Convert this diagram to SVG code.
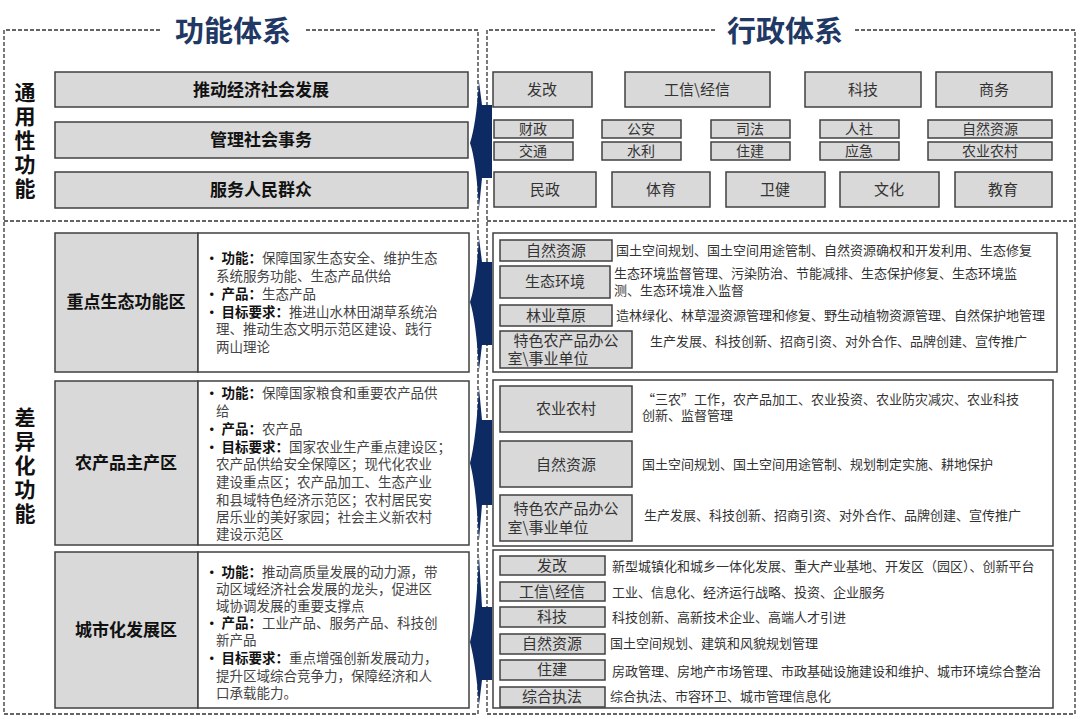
<svg xmlns="http://www.w3.org/2000/svg" width="1080" height="728" viewBox="0 0 1080 728">
<style>
text{font-family:"Noto Sans CJK SC","Liberation Sans",sans-serif;fill:#262626}
.dash{fill:none;stroke:#333;stroke-width:1.3;stroke-dasharray:4 2}
.g{fill:#d9d9d9;stroke:#404040;stroke-width:1.5}
.w{fill:#fff;stroke:#404040;stroke-width:1.5}
.title{font-size:29px;font-weight:bold;fill:#1f3864;text-anchor:middle}
.vt{font-size:21px;font-weight:bold;fill:#111;text-anchor:middle}
.bar{font-size:17px;font-weight:bold;fill:#111;text-anchor:middle}
.c{font-size:15px;text-anchor:middle;fill:#333}
.cs{font-size:14px;text-anchor:middle;fill:#333}
.zl{font-size:17px;font-weight:bold;fill:#111;text-anchor:middle}
.b{font-size:13.5px;fill:#444}
.b tspan.k{font-weight:bold;fill:#111}
.s{font-size:13px;fill:#333}
.arr{fill:#0d2a63}
</style>
<g id="frames">
<path class="dash" d="M160,30 H4 V714 H478 V30 H305"/>
<path class="dash" d="M715,30 H487 V714 H1075 V30 H855"/>
<line class="dash" x1="4" y1="221" x2="478" y2="221"/>
<line class="dash" x1="487" y1="221" x2="1075" y2="221"/>
<text class="title" x="233" y="42">功能体系</text>
<text class="title" x="785" y="42">行政体系</text>
</g>
<g id="labels-left">
<text class="vt" x="25" y="100">通</text><text class="vt" x="25" y="124">用</text><text class="vt" x="25" y="148">性</text><text class="vt" x="25" y="172">功</text><text class="vt" x="25" y="196">能</text>
<text class="vt" x="25" y="425">差</text><text class="vt" x="25" y="449">异</text><text class="vt" x="25" y="473">化</text><text class="vt" x="25" y="497">功</text><text class="vt" x="25" y="521">能</text>
</g>
<g id="general-func">
<rect class="g" x="55" y="72" width="413" height="35"/><text class="bar" x="261" y="96">推动经济社会发展</text>
<rect class="g" x="55" y="122" width="413" height="36"/><text class="bar" x="261" y="146">管理社会事务</text>
<rect class="g" x="55" y="172" width="413" height="36"/><text class="bar" x="261" y="196">服务人民群众</text>
</g>
<g id="zone1">
<rect class="g" x="55" y="233" width="143" height="139"/><rect class="w" x="198" y="233" width="271" height="139"/>
<text class="zl" x="126" y="308">重点生态功能区</text>
<text class="b" x="205" y="263"><tspan class="k">• 功能：</tspan>保障国家生态安全、维护生态</text>
<text class="b" x="216" y="281">系统服务功能、生态产品供给</text>
<text class="b" x="205" y="299"><tspan class="k">• 产品：</tspan>生态产品</text>
<text class="b" x="205" y="317"><tspan class="k">• 目标要求：</tspan>推进山水林田湖草系统治</text>
<text class="b" x="216" y="334">理、推动生态文明示范区建设、践行</text>
<text class="b" x="216" y="352">两山理论</text>
</g>
<g id="zone2">
<rect class="g" x="55" y="381" width="143" height="164"/><rect class="w" x="198" y="381" width="271" height="164"/>
<text class="zl" x="126" y="469">农产品主产区</text>
<text class="b" x="205" y="398"><tspan class="k">• 功能：</tspan>保障国家粮食和重要农产品供</text>
<text class="b" x="216" y="416">给</text>
<text class="b" x="205" y="434"><tspan class="k">• 产品：</tspan>农产品</text>
<text class="b" x="205" y="452"><tspan class="k">• 目标要求：</tspan>国家农业生产重点建设区；</text>
<text class="b" x="216" y="469">农产品供给安全保障区；现代化农业</text>
<text class="b" x="216" y="487">建设重点区；农产品加工、生态产业</text>
<text class="b" x="216" y="505">和县域特色经济示范区；农村居民安</text>
<text class="b" x="216" y="522">居乐业的美好家园；社会主义新农村</text>
<text class="b" x="216" y="539">建设示范区</text>
</g>
<g id="zone3">
<rect class="g" x="55" y="552" width="143" height="156"/><rect class="w" x="198" y="552" width="271" height="156"/>
<text class="zl" x="126" y="636">城市化发展区</text>
<text class="b" x="205" y="577"><tspan class="k">• 功能：</tspan>推动高质量发展的动力源，带</text>
<text class="b" x="216" y="594">动区域经济社会发展的龙头，促进区</text>
<text class="b" x="216" y="611">域协调发展的重要支撑点</text>
<text class="b" x="205" y="628"><tspan class="k">• 产品：</tspan>工业产品、服务产品、科技创</text>
<text class="b" x="216" y="645">新产品</text>
<text class="b" x="205" y="663"><tspan class="k">• 目标要求：</tspan>重点增强创新发展动力，</text>
<text class="b" x="216" y="681">提升区域综合竞争力，保障经济和人</text>
<text class="b" x="216" y="698">口承载能力。</text>
</g>
<g id="connectors">
<path class="arr" d="M479,82 L482,105 L492,105 L492,178 L482,178 L479,208 Q476,160 470,143 Q476,125 479,82 Z"/>
<path class="arr" d="M479,238 L482,262 L492,262 L492,345 L482,345 L479,370 Q476,320 470,302 Q476,285 479,238 Z"/>
<path class="arr" d="M479,388 L482,420 L492,420 L492,505 L482,505 L479,540 Q476,485 470,463 Q476,440 479,388 Z"/>
<path class="arr" d="M479,556 L482,607 L492,607 L492,680 L482,680 L479,705 Q476,665 470,642 Q476,620 479,556 Z"/>
</g>
<g id="admin-general">
<rect class="g" x="493" y="72" width="99" height="35"/><text class="c" x="542" y="95">发改</text>
<rect class="g" x="625" y="72" width="145" height="35"/><text class="c" x="697" y="95">工信\经信</text>
<rect class="g" x="805" y="72" width="116" height="35"/><text class="c" x="863" y="95">科技</text>
<rect class="g" x="936" y="72" width="116" height="35"/><text class="c" x="994" y="95">商务</text>
<rect class="g" x="494" y="120" width="79" height="18"/><text class="cs" x="533" y="134">财政</text>
<rect class="g" x="602" y="120" width="79" height="18"/><text class="cs" x="641" y="134">公安</text>
<rect class="g" x="711" y="120" width="79" height="18"/><text class="cs" x="750" y="134">司法</text>
<rect class="g" x="820" y="120" width="79" height="18"/><text class="cs" x="859" y="134">人社</text>
<rect class="g" x="928" y="120" width="124" height="18"/><text class="cs" x="990" y="134">自然资源</text>
<rect class="g" x="494" y="142" width="79" height="18"/><text class="cs" x="533" y="156">交通</text>
<rect class="g" x="602" y="142" width="79" height="18"/><text class="cs" x="641" y="156">水利</text>
<rect class="g" x="711" y="142" width="79" height="18"/><text class="cs" x="750" y="156">住建</text>
<rect class="g" x="820" y="142" width="79" height="18"/><text class="cs" x="859" y="156">应急</text>
<rect class="g" x="928" y="142" width="124" height="18"/><text class="cs" x="990" y="156">农业农村</text>
<rect class="g" x="494" y="172" width="102" height="35"/><text class="c" x="545" y="195">民政</text>
<rect class="g" x="612" y="172" width="98" height="35"/><text class="c" x="661" y="195">体育</text>
<rect class="g" x="726" y="172" width="99" height="35"/><text class="c" x="775" y="195">卫健</text>
<rect class="g" x="840" y="172" width="99" height="35"/><text class="c" x="889" y="195">文化</text>
<rect class="g" x="955" y="172" width="97" height="35"/><text class="c" x="1003" y="195">教育</text>
</g>
<g id="admin-zone1">
<rect class="w" x="493" y="233" width="564" height="139"/>
<rect class="g" x="500" y="240" width="112" height="21"/><text class="c" x="556" y="256">自然资源</text>
<text class="s" x="616" y="255">国土空间规划、国土空间用途管制、自然资源确权和开发利用、生态修复</text>
<rect class="g" x="500" y="266" width="110" height="32"/><text class="c" x="555" y="287">生态环境</text>
<text class="s" x="614" y="278">生态环境监督管理、污染防治、节能减排、生态保护修复、生态环境监</text>
<text class="s" x="614" y="295">测、生态环境准入监督</text>
<rect class="g" x="500" y="305" width="112" height="21"/><text class="c" x="556" y="321">林业草原</text>
<text class="s" x="616" y="320">造林绿化、林草湿资源管理和修复、野生动植物资源管理、自然保护地管理</text>
<rect class="g" x="500" y="331" width="132" height="37"/><text class="c" x="566" y="346">特色农产品办公</text><text class="c" x="548" y="364">室\事业单位</text>
<text class="s" x="650" y="346">生产发展、科技创新、招商引资、对外合作、品牌创建、宣传推广</text>
</g>
<g id="admin-zone2">
<rect class="w" x="493" y="380" width="560" height="166"/>
<rect class="g" x="500" y="386" width="132" height="46"/><text class="c" x="566" y="414">农业农村</text>
<text class="s" x="642" y="404">“三农”工作，农产品加工、农业投资、农业防灾减灾、农业科技</text>
<text class="s" x="642" y="420">创新、监督管理</text>
<rect class="g" x="500" y="441" width="132" height="46"/><text class="c" x="566" y="470">自然资源</text>
<text class="s" x="642" y="469">国土空间规划、国土空间用途管制、规划制定实施、耕地保护</text>
<rect class="g" x="500" y="495" width="132" height="46"/><text class="c" x="566" y="514">特色农产品办公</text><text class="c" x="548" y="533">室\事业单位</text>
<text class="s" x="644" y="520">生产发展、科技创新、招商引资、对外合作、品牌创建、宣传推广</text>
</g>
<g id="admin-zone3">
<rect class="w" x="493" y="550" width="560" height="158"/>
<rect class="g" x="500" y="556" width="105" height="19"/><text class="c" x="552" y="571">发改</text>
<text class="s" x="612" y="571">新型城镇化和城乡一体化发展、重大产业基地、开发区（园区）、创新平台</text>
<rect class="g" x="500" y="582" width="105" height="19"/><text class="c" x="552" y="597">工信\经信</text>
<text class="s" x="612" y="597">工业、信息化、经济运行战略、投资、企业服务</text>
<rect class="g" x="500" y="607" width="105" height="20"/><text class="c" x="552" y="622">科技</text>
<text class="s" x="612" y="622">科技创新、高新技术企业、高端人才引进</text>
<rect class="g" x="500" y="634" width="105" height="20"/><text class="c" x="552" y="649">自然资源</text>
<text class="s" x="610" y="648">国土空间规划、建筑和风貌规划管理</text>
<rect class="g" x="500" y="660" width="105" height="20"/><text class="c" x="552" y="675">住建</text>
<text class="s" x="612" y="676">房政管理、房地产市场管理、市政基础设施建设和维护、城市环境综合整治</text>
<rect class="g" x="500" y="687" width="105" height="20"/><text class="c" x="552" y="702">综合执法</text>
<text class="s" x="610" y="701">综合执法、市容环卫、城市管理信息化</text>
</g>
</svg>
